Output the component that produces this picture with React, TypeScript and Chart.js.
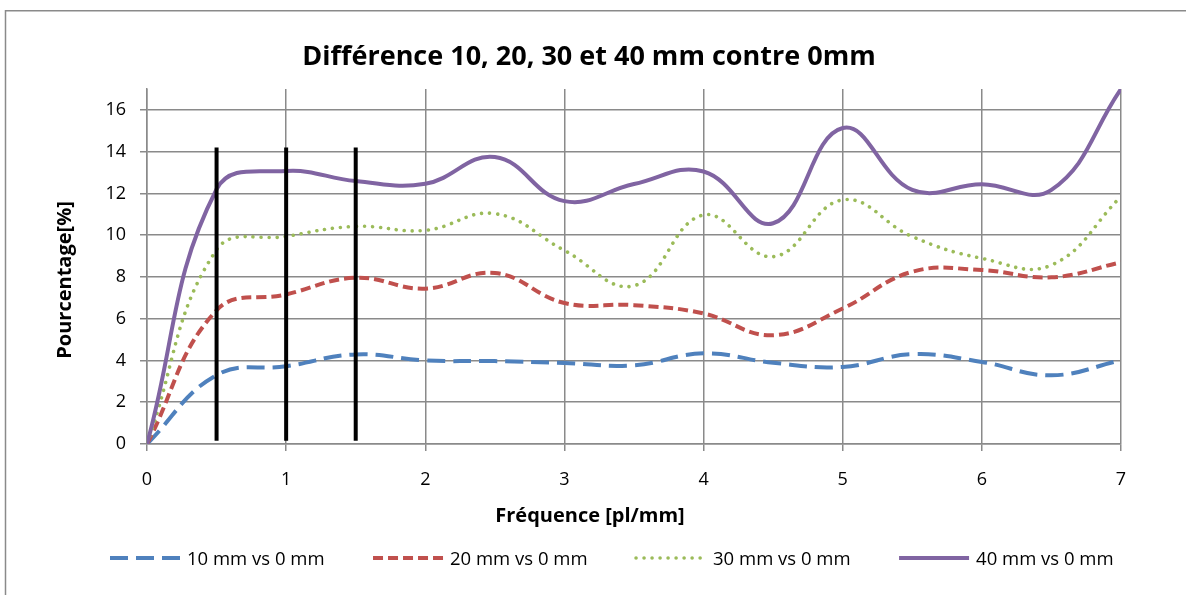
import React, { useEffect, useRef } from "react";
import { Chart, registerables } from "chart.js";

Chart.register(...registerables);

// ---------- data ----------
const frequencies = [0, 0.5, 1, 1.5, 2, 2.5, 3, 3.5, 4, 4.5, 5, 5.5, 6, 6.5, 7];
const diff10 = [0, 3.3, 3.72, 4.29, 4.0, 3.97, 3.88, 3.77, 4.34, 3.89, 3.69, 4.3, 3.93, 3.29, 4.01];
const diff20 = [0, 6.4, 7.16, 7.96, 7.44, 8.19, 6.75, 6.65, 6.25, 5.21, 6.49, 8.25, 8.33, 7.98, 8.7];
const diff30 = [0, 9.3, 9.94, 10.42, 10.23, 11.03, 9.27, 7.58, 10.97, 8.97, 11.69, 9.93, 8.89, 8.57, 11.85];
const diff40 = [0, 12.2, 13.07, 12.59, 12.46, 13.74, 11.63, 12.45, 13.05, 10.57, 15.13, 12.17, 12.44, 12.17, 17.0];
const seriesLabels = ["10 mm vs 0 mm", "20 mm vs 0 mm", "30 mm vs 0 mm", "40 mm vs 0 mm"];
const markerFrequencies = [0.5, 1, 1.5];
const markerRange = [0.15, 14.2];
const xTickValues = [0, 1, 2, 3, 4, 5, 6, 7];
const yTickValues = [0, 2, 4, 6, 8, 10, 12, 14, 16];
const chartTitle = "Différence 10, 20, 30 et 40 mm contre 0mm";
const xAxisTitle = "Fréquence [pl/mm]";
const yAxisTitle = "Pourcentage[%]";

// ---------- styles ----------
const FONT = "'Open Sans', 'DejaVu Sans', sans-serif";
const GRID = "#8a8a8a";
const seriesStyles = [
  { color: "#4F81BD", dash: [18, 8], width: 4, cap: "butt" },
  { color: "#C0504D", dash: [10, 5], width: 4, cap: "butt" },
  { color: "#9BBB59", dash: [0.01, 8], width: 3.6, cap: "round" },
  { color: "#8064A2", dash: [] as number[], width: 4, cap: "butt" },
];

const decorPlugin = {
  id: "decor",
  beforeDraw(chart: any) {
    const ctx = chart.ctx;
    ctx.save();
    ctx.fillStyle = "#ffffff";
    ctx.fillRect(0, 0, chart.width, chart.height);
    ctx.strokeStyle = "#8a8a8a";
    ctx.lineWidth = 1.5;
    ctx.strokeRect(5.5, 10.75, chart.width + 20, chart.height + 20);
    ctx.restore();
  },
  afterDraw(chart: any) {
    const ctx = chart.ctx;
    ctx.save();
    ctx.fillStyle = "#000";
    ctx.textBaseline = "middle";
    ctx.textAlign = "center";
    ctx.font = `bold 27px ${FONT}`;
    ctx.fillText(chartTitle, 589, 57);
    ctx.font = `bold 20px ${FONT}`;
    ctx.fillText(xAxisTitle, 590, 516);
    ctx.save();
    ctx.translate(65, 280);
    ctx.rotate(-Math.PI / 2);
    ctx.fillText(yAxisTitle, 0, 0);
    ctx.restore();

    // legend
    ctx.font = `18.5px ${FONT}`;
    ctx.textAlign = "left";
    let x = 110;
    const y = 558;
    seriesLabels.forEach((label, i) => {
      const s = seriesStyles[i];
      ctx.save();
      ctx.strokeStyle = s.color;
      ctx.lineWidth = s.width;
      ctx.lineCap = s.cap;
      ctx.setLineDash(s.dash);
      ctx.beginPath();
      ctx.moveTo(x, y);
      ctx.lineTo(x + 70, y);
      ctx.stroke();
      ctx.restore();
      ctx.fillText(label, x + 77, y + 2);
      const w = ctx.measureText(label).width;
      x += 77 + w + 48.5;
    });
    ctx.restore();
  },
};

export default function App() {
  const ref = useRef<HTMLCanvasElement | null>(null);
  useEffect(() => {
    if (!ref.current) return;
    const seriesData = [diff10, diff20, diff30, diff40];
    const datasets: any[] = seriesData.map((vals, i) => ({
      label: seriesLabels[i],
      data: frequencies.map((f, j) => ({ x: f, y: vals[j] })),
      borderColor: seriesStyles[i].color,
      borderWidth: seriesStyles[i].width,
      borderDash: seriesStyles[i].dash,
      borderCapStyle: seriesStyles[i].cap,
      pointRadius: 0,
      tension: 0.42,
      fill: false,
      order: 4 - i,
    }));
    markerFrequencies.forEach((f) => {
      datasets.push({
        label: "",
        data: markerRange.map((v) => ({ x: f, y: v })),
        borderColor: "#000000",
        borderWidth: 4,
        pointRadius: 0,
        tension: 0,
        fill: false,
        order: 0,
      });
    });
    const chart = new Chart(ref.current, {
      type: "line",
      data: { datasets },
      plugins: [decorPlugin],
      options: {
        animation: false,
        responsive: false,
        devicePixelRatio: 1,
        layout: { padding: { top: 89, right: 65, bottom: 0, left: 0 } },
        plugins: { legend: { display: false }, title: { display: false }, tooltip: { enabled: false } },
        scales: {
          x: {
            type: "linear",
            min: 0,
            max: 7,
            afterBuildTicks: (s: any) => {
              s.ticks = xTickValues.map((v) => ({ value: v }));
            },
            afterFit: (s: any) => {
              s.height = 151;
            },
            ticks: { color: "#000", font: { family: FONT, size: 18 }, padding: 18, maxRotation: 0 },
            grid: { color: GRID, lineWidth: 1.5, tickLength: 7, drawTicks: true, tickColor: GRID },
            border: { color: GRID, width: 1.5 },
          },
          y: {
            min: 0,
            max: 17,
            afterBuildTicks: (s: any) => {
              s.ticks = yTickValues.map((v) => ({ value: v }));
            },
            afterFit: (s: any) => {
              s.width = 147;
            },
            ticks: { color: "#000", font: { family: FONT, size: 18 }, padding: 14 },
            grid: { color: GRID, lineWidth: 1.5, tickLength: 7, drawTicks: true, tickColor: GRID },
            border: { color: GRID, width: 1.5 },
          },
        },
      } as any,
    });
    return () => chart.destroy();
  }, []);
  return (
    <div style={{ position: "fixed", left: 0, top: 0, width: 1186, height: 595 }}>
      <canvas ref={ref} width={1186} height={595} style={{ display: "block", width: 1186, height: 595 }} />
    </div>
  );
}
